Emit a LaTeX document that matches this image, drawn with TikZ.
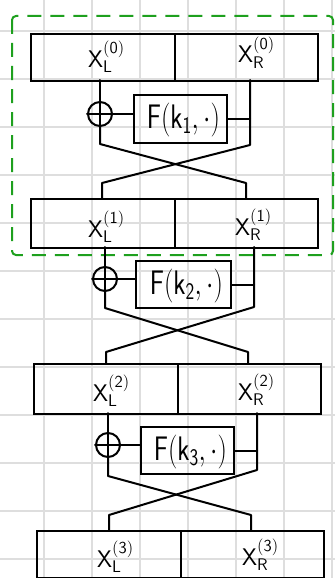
\RequirePackage{fix-cm}
\documentclass[tikz,border=0pt]{standalone}
\usetikzlibrary{calc}
\definecolor{gridgray}{RGB}{222,222,222}
\definecolor{dashgreen}{RGB}{30,160,30}
\begin{document}
\begin{tikzpicture}[x=1pt,y=-1pt,
  wire/.style={line width=2pt, line cap=round, line join=round},
  half/.style={draw, line width=2pt, rectangle, inner sep=0pt, anchor=north west},
  fbox/.style={draw, line width=2pt, rectangle, inner sep=0pt, anchor=north west},
  xorc/.style={draw, circle, line width=2pt, minimum size=24pt, inner sep=0pt},
  lab/.style={inner sep=0pt, anchor=base west, font=\fontsize{24}{28}\selectfont},
  flab/.style={inner sep=0pt, font=\fontsize{34}{40}\selectfont},
  gridline/.style={gridgray, line width=1.5pt},
  roundbox/.style={dashgreen, line width=2pt, dash pattern=on 14pt off 9pt, rounded corners=4pt}
]
\useasboundingbox (0,0) rectangle (335,578);
% grid
\foreach \gx in {44,92,...,332} \draw[gridline] (\gx,0) -- (\gx,578);
\foreach \gy in {31,79,...,559} \draw[gridline] (0,\gy) -- (335,\gy);
% green round outline
\draw[roundbox] (12,16) rectangle (333,255);

% boxes
\node[half, minimum width=144pt, minimum height=47pt] (b0l) at (30,33) {};
\node[half, minimum width=143pt, minimum height=47pt] (b0r) at (174,33) {};
\node[half, minimum width=144pt, minimum height=49pt] (b1l) at (30,198) {};
\node[half, minimum width=143pt, minimum height=49pt] (b1r) at (174,198) {};
\node[half, minimum width=144pt, minimum height=50pt] (b2l) at (33,363) {};
\node[half, minimum width=143pt, minimum height=50pt] (b2r) at (177,363) {};
\node[half, minimum width=144pt, minimum height=47pt] (b3l) at (36,530) {};
\node[half, minimum width=143pt, minimum height=47pt] (b3r) at (180,530) {};

% labels
\newcommand{\xlab}[2]{$\mathsf{X}_{\mathsf{#1}}^{\raisebox{5pt}{$\scriptstyle(\mathsf{#2})$}}$}
\node[lab] (tl0) at (88,67) {\xlab{L}{0}};
\node[lab] (tr0) at (238,63) {\xlab{R}{0}};
\node[lab] (tl1) at (88,237) {\xlab{L}{1}};
\node[lab] (tr1) at (235,235) {\xlab{R}{1}};
\node[lab] (tl2) at (93,401) {\xlab{L}{2}};
\node[lab] (tr2) at (238,400) {\xlab{R}{2}};
\node[lab] (tl3) at (97,567) {\xlab{L}{3}};
\node[lab] (tr3) at (242,565) {\xlab{R}{3}};

% F boxes
\node[fbox, minimum width=93pt, minimum height=48pt] (f1) at (133,94) {};
\node[fbox, minimum width=95pt, minimum height=47pt] (f2) at (135,260) {};
\node[fbox, minimum width=93pt, minimum height=47pt] (f3) at (140,426) {};
\newcommand{\flabel}[1]{\scalebox{0.78}[1]{$\mathsf{F}(\mathsf{k}_{\mathsf{#1}},{\cdot})$}}
\node[flab] (ft1) at ($(f1.center)+(3,1)$) {\flabel{1}};
\node[flab] (ft2) at ($(f2.center)+(3,1)$) {\flabel{2}};
\node[flab] (ft3) at ($(f3.center)+(3,1)$) {\flabel{3}};

% XOR circles
\node[xorc] (x1) at (100,114) {};
\node[xorc] (x2) at (105,279) {};
\node[xorc] (x3) at (108,445) {};
\foreach \xn in {x1,x2,x3} {
  \draw[wire] (\xn.west) -- (\xn.east);
  \draw[wire] (\xn.north) -- (\xn.south);
}

% round 1 wires
\coordinate (l1a) at (100,80);
\coordinate (l1b) at (100,144);
\coordinate (l1c) at (246,183);
\coordinate (l1d) at (246,198);
\coordinate (r1a) at (250,80);
\coordinate (r1b) at (250,145);
\coordinate (r1c) at (102,183);
\coordinate (r1d) at (102,198);
\draw[wire] (l1a) -- (x1.north);
\draw[wire] (x1.south) -- (l1b) -- (l1c) -- (l1d);
\draw[wire] (r1a) -- (r1b) -- (r1c) -- (r1d);
\draw[wire] (x1.east) -- (x1.east -| f1.west);
\draw[wire] (f1.east) -- (f1.east -| r1a);

% round 2 wires
\coordinate (l2a) at (105,247);
\coordinate (l2b) at (105,308);
\coordinate (l2c) at (248,352);
\coordinate (l2d) at (248,363);
\coordinate (r2a) at (254,247);
\coordinate (r2b) at (254,307);
\coordinate (r2c) at (106,352);
\coordinate (r2d) at (106,363);
\draw[wire] (l2a) -- (x2.north);
\draw[wire] (x2.south) -- (l2b) -- (l2c) -- (l2d);
\draw[wire] (r2a) -- (r2b) -- (r2c) -- (r2d);
\draw[wire] (x2.east) -- (x2.east -| f2.west);
\draw[wire] (f2.east) -- (f2.east -| r2a);

% round 3 wires
\coordinate (l3a) at (108,413);
\coordinate (l3b) at (108,476);
\coordinate (l3c) at (251,515);
\coordinate (l3d) at (251,530);
\coordinate (r3a) at (257,413);
\coordinate (r3b) at (257,470);
\coordinate (r3c) at (109,515);
\coordinate (r3d) at (109,530);
\draw[wire] (l3a) -- (x3.north);
\draw[wire] (x3.south) -- (l3b) -- (l3c) -- (l3d);
\draw[wire] (r3a) -- (r3b) -- (r3c) -- (r3d);
\draw[wire] (x3.east) -- (x3.east -| f3.west);
\draw[wire] (f3.east) -- (f3.east -| r3a);
\end{tikzpicture}
\end{document}
